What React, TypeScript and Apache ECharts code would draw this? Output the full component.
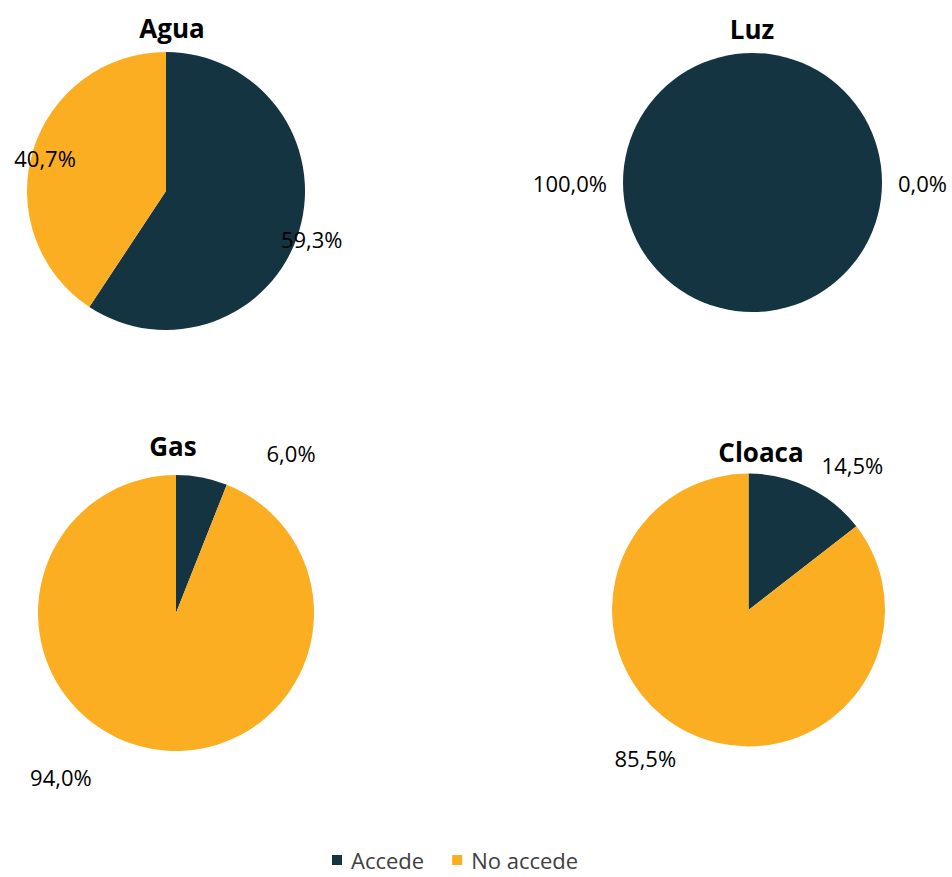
import React, { useEffect, useRef } from "react";
import * as echarts from "echarts";

// ---- data ----
const SERVICES = ["Agua", "Luz", "Gas", "Cloaca"];
const CATEGORIES = ["Accede", "No accede"];
const ACCEDE = [59.3, 100.0, 6.0, 14.5];
const NO_ACCEDE = [40.7, 0.0, 94.0, 85.5];

// ---- layout / styles ----
const NAVY = "#143441";
const ORANGE = "#FBAE21";
const FONT = "'Open Sans', 'Noto Sans', sans-serif";
const PIE_CENTERS: [number, number][] = [
  [166, 191],
  [752.5, 182.5],
  [176, 613],
  [748.5, 610],
];
const PIE_RADII = [139, 129.5, 138, 136.5];
const START_ANGLES = [90, 0, 90, 90];
// per slice label tuning: radial length & horizontal distance
const LABEL_TUNING = [
  [{ len: 28, dist: -45 }, { len: -24, dist: -20 }],
  [{ len: 0, dist: 16 }, { len: 0, dist: 16 }],
  [{ len: 25, dist: 60 }, { len: 29, dist: 53 }],
  [{ len: 25, dist: 2 }, { len: 28, dist: 0 }],
];
const TITLE_POS: [number, number][] = [
  [172, 15],
  [752, 16],
  [173, 433],
  [761, 439],
];

const fmt = (v: number) => v.toFixed(1).replace(".", ",") + "%";

export default function App() {
  const ref = useRef<HTMLDivElement>(null);
  useEffect(() => {
    if (!ref.current) return;
    const chart = echarts.init(ref.current, null, { renderer: "svg" });
    const series = SERVICES.map((s, i) => {
      const vals = [ACCEDE[i], NO_ACCEDE[i]];
      return {
        type: "pie",
        name: s,
        center: PIE_CENTERS[i],
        radius: PIE_RADII[i],
        startAngle: START_ANGLES[i],
        clockwise: true,
        avoidLabelOverlap: false,
        silent: true,
        itemStyle: { borderWidth: 0 },
        emphasis: { disabled: true },
        label: {
          show: true,
          position: "outside",
          alignTo: "none",
          fontSize: 22,
          fontFamily: FONT,
          color: "#000",
          formatter: (p: any) => fmt(p.value),
        },
        labelLine: { show: false, length: 0, length2: 0 },
        data: CATEGORIES.map((c, j) => ({
          name: c,
          value: vals[j],
          label: { distanceToLabelLine: LABEL_TUNING[i][j].dist },
          labelLine: { show: false, length: LABEL_TUNING[i][j].len, length2: 0 },
        })),
      };
    });
    chart.setOption({
      animation: false,
      color: [NAVY, ORANGE],
      title: SERVICES.map((s, i) => ({
        text: s,
        left: TITLE_POS[i][0],
        top: TITLE_POS[i][1],
        textAlign: "center",
        padding: 0,
        textStyle: {
          fontFamily: FONT,
          fontSize: 26,
          fontWeight: "bold",
          color: "#000",
        },
      })),
      legend: {
        data: CATEGORIES,
        left: 332,
        top: 849,
        icon: "rect",
        itemWidth: 10,
        itemHeight: 10,
        itemGap: 28,
        selectedMode: false,
        padding: 0,
        textStyle: {
          fontFamily: FONT,
          fontSize: 22,
          lineHeight: 22,
          color: "#404040",
          padding: [0, 0, 0, 4],
        },
      },
      series,
    } as any);
    return () => chart.dispose();
  }, []);
  return (
    <div
      ref={ref}
      style={{ position: "absolute", left: 0, top: 0, width: 952, height: 877 }}
    />
  );
}
